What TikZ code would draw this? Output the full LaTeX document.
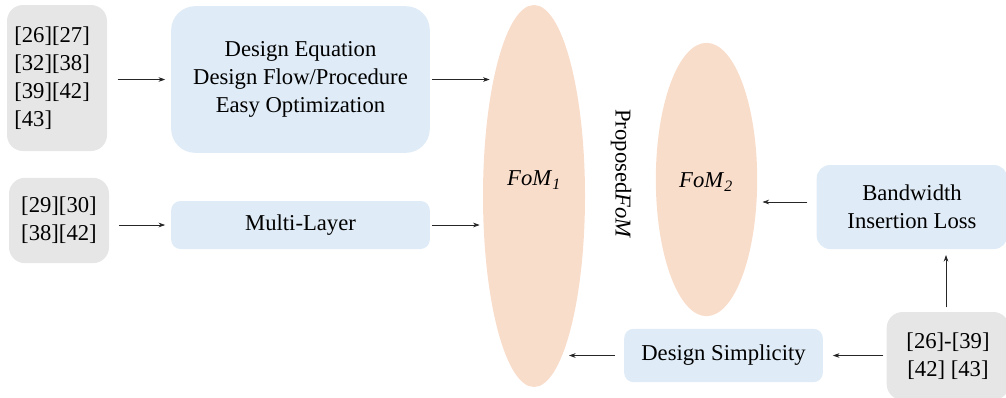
\documentclass[tikz,border=0pt]{standalone}
\usepackage{fontspec}
\setmainfont{Liberation Serif}
\usetikzlibrary{shapes.geometric,arrows.meta}
\definecolor{grayfill}{HTML}{E6E6E6}
\definecolor{bluefill}{HTML}{DFEBF6}
\definecolor{ovalfill}{HTML}{F9DDCB}
\begin{document}
\begin{tikzpicture}[x=0.75pt,y=-0.75pt,
  every node/.style={font=\fontsize{17}{21}\selectfont, inner sep=0pt, outer sep=0pt},
  refbox/.style={fill=grayfill, rounded corners=12pt},
  bluebox/.style={fill=bluefill, rounded corners=7pt},
  oval/.style={ellipse, fill=ovalfill},
  arr/.style={-{Stealth[length=5pt,width=3.5pt]}, line width=0.5pt, black!85}]
\useasboundingbox (0,0) rectangle (1006,397);
% reference boxes
\node[refbox, minimum width=75pt, minimum height=109.5pt, align=left, text width=64pt] (g1) at (57,78) {[26][27]\\{}[32][38]\\{}[39][42]\\{}[43]};
\node[refbox, minimum width=75pt, minimum height=64pt, align=center] (g2) at (59,220.5) {[29][30]\\{}[38][42]};
\node[refbox, minimum width=92pt, minimum height=66pt, align=center] (g3) at (948,356) {[26]-[39]\\{}[42] [43]};
% blue boxes
\node[bluebox, rounded corners=18pt, minimum width=194pt, minimum height=110pt, align=center] (b1) at (300.5,79.5) {Design Equation\\Design Flow/Procedure\\Easy Optimization};
\node[bluebox, minimum width=194pt, minimum height=36pt] (b2) at (300.5,225) {Multi-Layer};
\node[bluebox, rounded corners=10pt, minimum width=143pt, minimum height=63pt, align=center] (bw) at (912,207) {Bandwidth\\Insertion Loss};
\node[bluebox, minimum width=149pt, minimum height=40pt] (ds) at (723.5,355.5) {Design Simplicity};
% ovals
\node[oval, minimum width=76.5pt, minimum height=286.5pt] (e1) at (534,196) {};
\node[oval, minimum width=76pt, minimum height=205pt] (e2) at (706.5,179.5) {};
\node (f1) at (534,180) {\textit{FoM}\textsubscript{\textit{1}}};
\node (f2) at (706,182) {\textit{FoM}\textsubscript{\textit{2}}};
\node[rotate=-90] (pf) at (621,174) {Proposed\textit{FoM}};
% helper coordinates
\coordinate (bwy) at (0,202);
\coordinate (g3x) at (946,0);
% connectors
\draw[arr] ([xshift=8pt]g1.east |- b1.west) -- ([xshift=-4.5pt]b1.west);
\draw[arr] ([xshift=1.5pt]b1.east) -- ([xshift=5pt]b1.east -| e1.west);
\draw[arr] ([xshift=7.5pt]g2.east |- b2.west) -- ([xshift=-4.5pt]b2.west);
\draw[arr] ([xshift=1.5pt]b2.east) -- ([xshift=-2.5pt]b2.east -| e1.west);
\draw[arr] ([xshift=-7pt]bw.west |- bwy) -- ([xshift=4pt]e2.east |- bwy);
\draw[arr] ([yshift=3.5pt]g3.north -| g3x) -- ([yshift=-4.5pt]bw.south -| g3x);
\draw[arr] ([xshift=-2.5pt]g3.west |- ds.east) -- ([xshift=7.5pt]ds.east);
\draw[arr] ([xshift=-7pt]ds.west) -- ([xshift=-12pt]ds.west -| e1.east);
\end{tikzpicture}
\end{document}
